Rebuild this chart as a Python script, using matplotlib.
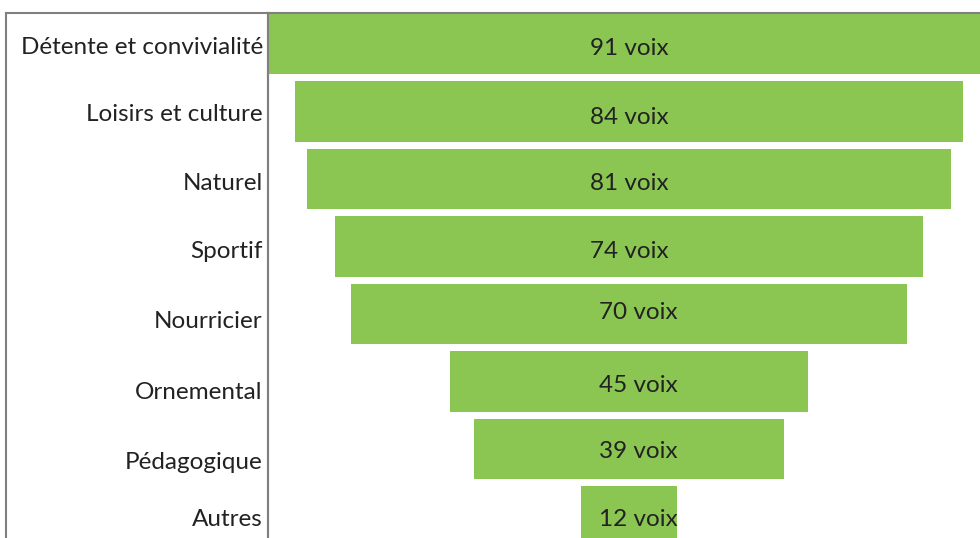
import matplotlib.pyplot as plt

categories = ["Détente et convivialité", "Loisirs et culture", "Naturel", "Sportif",
              "Nourricier", "Ornemental", "Pédagogique", "Autres"]
votes = [91, 84, 81, 74, 70, 45, 39, 12]

# small nudges (in points) the original layout has on its labels
cat_dy = [-2.5, -2.5, -3.5, -3.5, -5.5, -8, -10, -2]
val_dx = [0, 0, 0, 0, 7, 7, 7, 7]
val_dy = [-3.5, -4, -3.5, -3.5, 1, -3, -2, -2]

green = "#8BC653"
frame = "#808080"
plt.rcParams['font.family'] = ['Lato', 'DejaVu Sans']

W, H = 980, 538
fig = plt.figure(figsize=(W / 100, H / 100), dpi=100)

# bar area: from x=268px to the right edge, y=13px to the bottom
x0, top = 268, 13
ax = fig.add_axes([x0 / W, 0, 1 - x0 / W, 1 - top / H])
px_per_vote = 7.95
center = 629
ax.set_xlim(-(center - x0) / px_per_vote, (W - center) / px_per_vote)
pitch = 67.5
ax.set_ylim((H - 44) / pitch, -(44 - top) / pitch)

ys = range(len(votes))
ax.barh(ys, votes, left=[-v / 2 for v in votes], height=0.9, color=green)
for y, v, dx, dy in zip(ys, votes, val_dx, val_dy):
    ax.annotate(f"{v} voix", (0, y), xytext=(dx, dy), textcoords="offset points",
                ha="center", va="center", fontsize=17.5, color="#222222")

ax.set_xticks([])
ax.set_yticks([])
for s in ["right", "bottom"]:
    ax.spines[s].set_visible(False)
for s in ["left", "top"]:
    ax.spines[s].set_color(frame)
    ax.spines[s].set_linewidth(1.5)

# label column box
lab = fig.add_axes([6 / W, 0, (x0 - 6) / W, 1 - top / H], sharey=ax)
lab.set_xlim(0, 1)
lab.set_xticks([])
lab.tick_params(left=False, labelleft=False)
lab.spines["bottom"].set_visible(False)
for s in ["left", "top", "right"]:
    lab.spines[s].set_color(frame)
    lab.spines[s].set_linewidth(1.5)
lab.patch.set_alpha(0)
for y, c, dy in zip(ys, categories, cat_dy):
    lab.annotate(c, (0.98, y), xytext=(0, dy), textcoords="offset points",
                 ha="right", va="center", fontsize=17.5, color="#222222")

fig.savefig("out.png", dpi=100)
